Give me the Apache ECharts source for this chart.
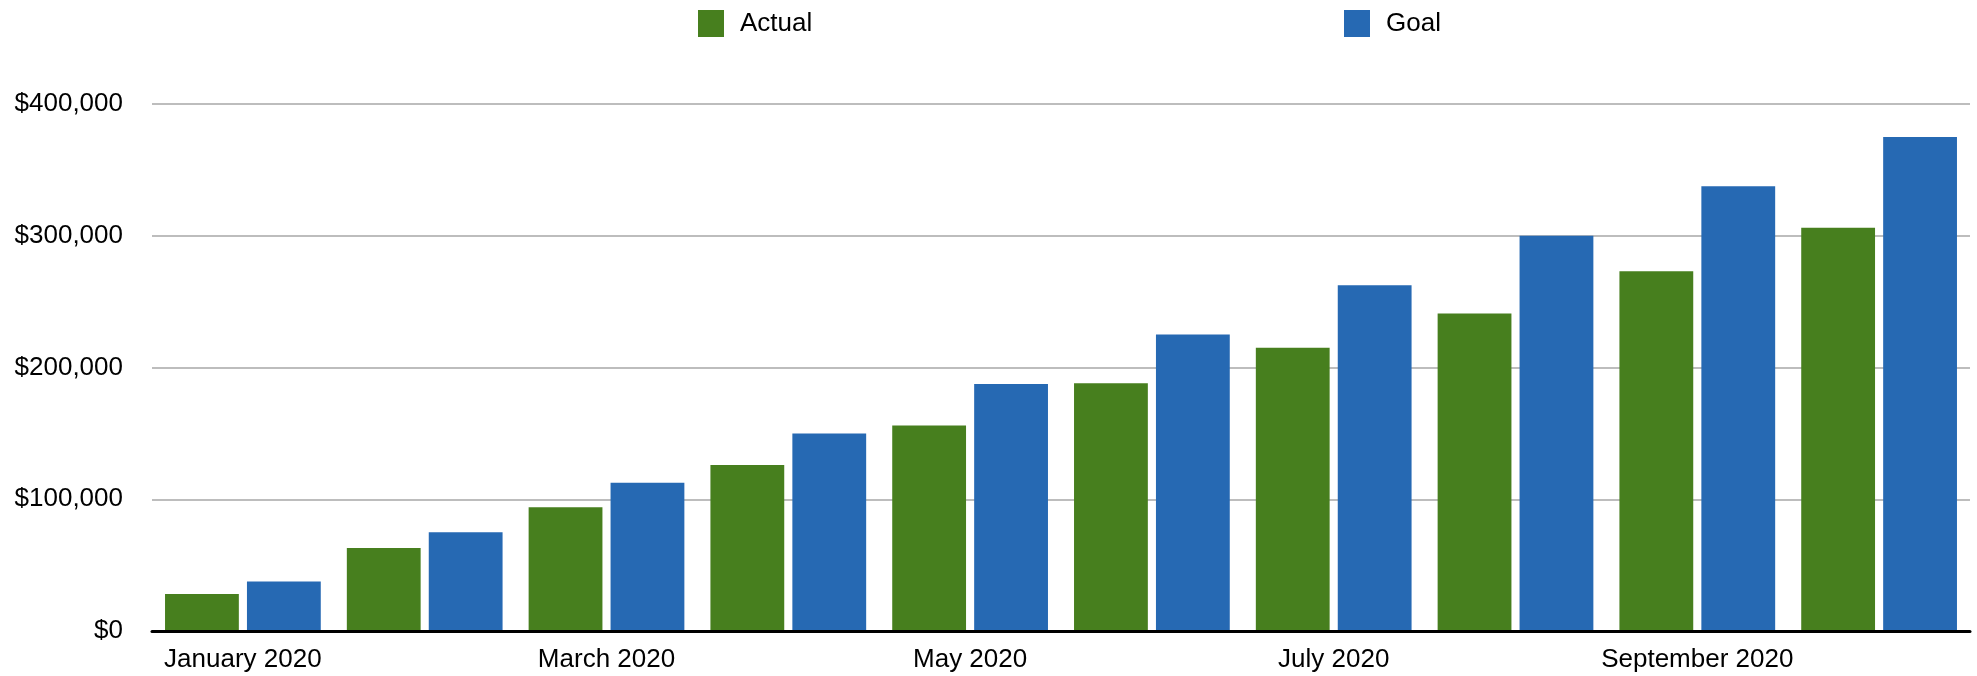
<!DOCTYPE html>
<html>
<head>
<meta charset="utf-8">
<script src="https://cdn.jsdelivr.net/npm/echarts@6/dist/echarts.min.js"></script>
<style>
html,body{margin:0;padding:0;background:#fff;}
#c{width:1977px;height:676px;}
</style>
</head>
<body>
<div id="c"></div>
<script>
const categories = ['January 2020','February 2020','March 2020','April 2020','May 2020','June 2020','July 2020','August 2020','September 2020','October 2020'];
const actualValues = [28000, 63000, 94000, 126000, 156000, 188000, 215000, 241000, 273000, 306000];
const goalValues = [37500, 75000, 112500, 150000, 187500, 225000, 262500, 300000, 337500, 375000];
const yTicks = [0, 100000, 200000, 300000, 400000];

const chart = echarts.init(document.getElementById('c'));
const font = 'Liberation Sans, Arial, Helvetica, sans-serif';
chart.setOption({
  animation: false,
  backgroundColor: '#ffffff',
  grid: {left: 152, right: 7, top: 104, bottom: 45, containLabel: false},
  legend: [
    {data: ['Actual'], left: 693, top: 5, itemWidth: 26, itemHeight: 27, icon: 'rect',
     textStyle: {fontFamily: font, fontSize: 26, color: '#000', padding: [0,0,0,11]}},
    {data: ['Goal'], left: 1339, top: 5, itemWidth: 26, itemHeight: 27, icon: 'rect',
     textStyle: {fontFamily: font, fontSize: 26, color: '#000', padding: [0,0,0,11]}}
  ],
  xAxis: {
    type: 'category',
    data: categories,
    axisLine: {show: true, lineStyle: {color: '#000', width: 3}},
    axisTick: {show: false},
    axisLabel: {interval: 1, margin: 16, fontFamily: font, fontSize: 26, color: '#000'},
    z: 10
  },
  yAxis: {
    type: 'value',
    min: yTicks[0],
    max: yTicks[yTicks.length - 1],
    interval: yTicks[1] - yTicks[0],
    axisLine: {show: false},
    axisTick: {show: false},
    splitLine: {show: true, lineStyle: {color: '#bdbdbd', width: 2}},
    axisLabel: {
      margin: 29, fontFamily: font, fontSize: 26, color: '#000',
      formatter: v => '$' + v.toLocaleString('en-US')
    }
  },
  series: [
    {name: 'Actual', type: 'bar', data: actualValues, barWidth: '40.6%', barGap: '11%',
     itemStyle: {color: '#477f1e'}},
    {name: 'Goal', type: 'bar', data: goalValues, barWidth: '40.6%', barGap: '11%',
     itemStyle: {color: '#2669b3'}}
  ]
});
</script>
</body>
</html>
